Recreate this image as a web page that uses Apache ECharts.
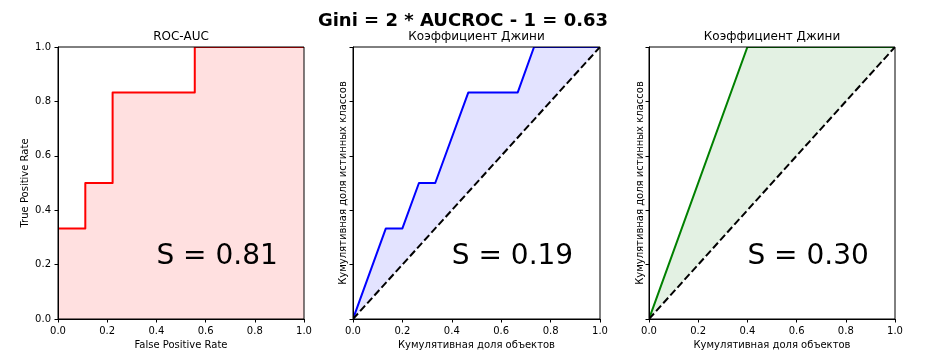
<!DOCTYPE html>
<html>
<head>
<meta charset="utf-8">
<script src="https://cdn.jsdelivr.net/npm/echarts@6/dist/echarts.min.js"></script>
<style>html,body{margin:0;padding:0;background:#fff}#c{width:930px;height:362px}</style>
</head>
<body>
<div id="c"></div>
<script>
// ROC curve (FPR, TPR)
var rocFpr = [0, 0, 0.111, 0.111, 0.222, 0.222, 0.556, 0.556, 1];
var rocTpr = [0, 0.333, 0.333, 0.5, 0.5, 0.833, 0.833, 1, 1];
// Gini curve of the model (cumulative share of objects, cumulative share of positives)
var giniX = [0, 0.133, 0.2, 0.267, 0.333, 0.467, 0.667, 0.733, 1];
var giniY = [0, 0.333, 0.333, 0.5, 0.5, 0.833, 0.833, 1, 1];
// Ideal Gini curve
var idealX = [0, 0.4, 1];
var idealY = [0, 1, 1];
// Diagonal (random)
var diagX = [0, 1];
var diagY = [0, 1];
// Baseline for ROC fill
var baseX = [0, 1];
var baseY = [0, 0];
var areaLabels = ['S = 0.81', 'S = 0.19', 'S = 0.30'];
var areaLabelPos = [0.4, 0.2];

var suptitle = 'Gini = 2 * AUCROC - 1 = 0.63';
var titles = ['ROC-AUC', 'Коэффициент Джини', 'Коэффициент Джини'];
var xNames = ['False Positive Rate', 'Кумулятивная доля объектов', 'Кумулятивная доля объектов'];
var yNames = ['True Positive Rate', 'Кумулятивная доля истинных классов', 'Кумулятивная доля истинных классов'];

function zip(a, b) { return a.map(function (v, i) { return [v, b[i]]; }); }

var FONT = 'DejaVu Sans';
var grids = [
  {left: 58, top: 47, width: 246, height: 272},
  {left: 353, top: 47, width: 247, height: 272},
  {left: 649, top: 47, width: 246, height: 272}
];
var yGaps = [28, 5, 4];

var xAxes = [], yAxes = [], series = [];
grids.forEach(function (g, i) {
  g.show = true; g.borderColor = '#000'; g.borderWidth = 1; g.backgroundColor = 'transparent';
  g.containLabel = false; g.z = 10;
  xAxes.push({
    type: 'value', gridIndex: i, min: 0, max: 1, interval: 0.2, z: 10,
    name: xNames[i], nameLocation: 'middle', nameGap: 21,
    nameTextStyle: {fontFamily: FONT, fontSize: 10, color: '#000'},
    axisLine: {show: true, onZero: false, lineStyle: {color: '#000', width: 1}},
    axisTick: {show: true, inside: false, length: 3.5, lineStyle: {color: '#000'}},
    axisLabel: {show: true, margin: 7, fontFamily: FONT, fontSize: 10, color: '#000',
      formatter: function (v) { return v.toFixed(1); }},
    splitLine: {show: false}
  });
  yAxes.push({
    type: 'value', gridIndex: i, min: 0, max: 1, interval: 0.2, z: 10,
    name: yNames[i], nameLocation: 'middle', nameGap: yGaps[i], nameRotate: 90,
    nameTextStyle: {fontFamily: FONT, fontSize: 10, color: '#000'},
    axisLine: {show: true, onZero: false, lineStyle: {color: '#000', width: 1}},
    axisTick: {show: true, inside: false, length: 3.5, lineStyle: {color: '#000'}},
    axisLabel: {show: i === 0, margin: 7, fontFamily: FONT, fontSize: 10, color: '#000',
      formatter: function (v) { return v.toFixed(1); }},
    splitLine: {show: false}
  });
});

// Fill between a curve and a reference line via custom polygon
function fillBetween(idx, xs, ys, rx, ry, color) {
  return {
    type: 'custom', xAxisIndex: idx, yAxisIndex: idx, data: [[0, 0]], z: 1, animation: false,
    silent: true, clip: true,
    renderItem: function (params, api) {
      var pts = zip(xs, ys).map(function (p) { return api.coord(p); });
      var d = zip(rx, ry).reverse().map(function (p) { return api.coord(p); });
      return {type: 'polygon', shape: {points: pts.concat(d)}, style: {fill: color, stroke: null}};
    }
  };
}
// Curve drawn as a clipped polyline
function curve(idx, xs, ys, color, dash, z) {
  return {
    type: 'custom', xAxisIndex: idx, yAxisIndex: idx, data: [[0, 0]], z: z, animation: false,
    silent: true, clip: true,
    renderItem: function (params, api) {
      var pts = zip(xs, ys).map(function (p) { return api.coord(p); });
      return {type: 'polyline', shape: {points: pts},
        style: {stroke: color, lineWidth: 2, fill: null, lineDash: dash || null, lineJoin: 'round'}};
    }
  };
}
series.push(fillBetween(0, rocFpr, rocTpr, baseX, baseY, 'rgba(255,0,0,0.12)'));
series.push(fillBetween(1, giniX, giniY, diagX, diagY, 'rgba(0,0,255,0.11)'));
series.push(fillBetween(2, idealX, idealY, diagX, diagY, 'rgba(0,128,0,0.11)'));
series.push(curve(0, rocFpr, rocTpr, '#ff0000', null, 3));
series.push(curve(1, giniX, giniY, '#0000ff', null, 3));
series.push(curve(2, idealX, idealY, '#008000', null, 3));
series.push(curve(1, diagX, diagY, '#000000', [7.4, 3.2], 4));
series.push(curve(2, diagX, diagY, '#000000', [7.4, 3.2], 4));

// Area labels
areaLabels.forEach(function (t, i) {
  series.push({
    type: 'scatter', xAxisIndex: i, yAxisIndex: i, data: [areaLabelPos], symbolSize: 0,
    itemStyle: {opacity: 1},
    silent: true, animation: false, z: 5,
    label: {show: true, formatter: t, position: [0, 6], align: 'left', verticalAlign: 'bottom',
      fontFamily: FONT, fontSize: 28, color: '#000', opacity: 1}
  });
});

var titleArr = [{text: suptitle, left: 463, top: 7, textAlign: 'center', padding: 0,
  textStyle: {fontFamily: FONT, fontSize: 18, fontWeight: 'bold', color: '#000'}}];
titles.forEach(function (t, i) {
  var g = grids[i];
  titleArr.push({text: t, left: g.left + g.width / 2, top: 31, textAlign: 'center', padding: 0,
    textStyle: {fontFamily: FONT, fontSize: 12, fontWeight: 'normal', color: '#000'}});
});
titleArr[0].top = 12;

var chart = echarts.init(document.getElementById('c'), null, {renderer: 'canvas'});
chart.setOption({
  backgroundColor: '#fff',
  animation: false,
  title: titleArr,
  grid: grids,
  xAxis: xAxes,
  yAxis: yAxes,
  series: series
});
</script>
</body>
</html>
